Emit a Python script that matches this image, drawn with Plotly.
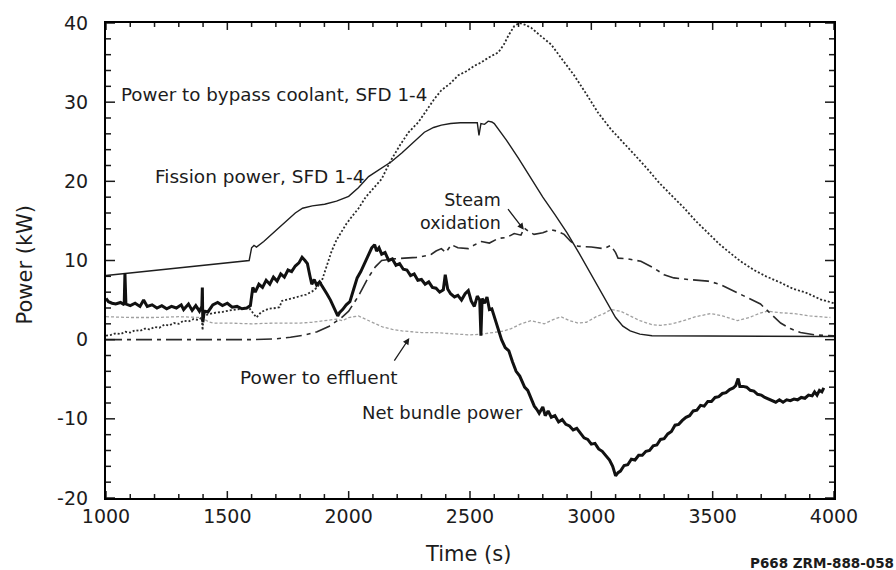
import plotly.graph_objects as go

# ---------------- data ----------------
fission_t = [1000, 1590, 1600, 1610, 1620, 1650, 1700, 1750, 1780, 1810, 1850, 1901, 1950, 2000,
             2040, 2082, 2130, 2177, 2220, 2270, 2312, 2350, 2382, 2420, 2460, 2530, 2537, 2545,
             2560, 2575, 2590, 2600, 2650, 2700, 2750, 2800, 2850, 2900, 2950, 3000, 3050, 3080,
             3100, 3130, 3160, 3200, 3250, 4000]
fission_p = [8.1, 10.0, 11.6, 11.9, 11.7, 12.4, 13.8, 15.2, 16.0, 16.6, 16.9, 17.1, 17.5, 18.1,
             19.2, 20.6, 21.6, 22.5, 23.6, 25.0, 26.2, 26.8, 27.1, 27.3, 27.4, 27.4, 25.8, 27.3,
             27.2, 27.6, 27.5, 27.3, 25.2, 22.9, 20.5, 18.0, 15.8, 13.5, 10.9, 8.2, 5.4, 3.8,
             2.8, 1.7, 1.1, 0.7, 0.5, 0.4]

bypass_t = [1000, 1020, 1040, 1060, 1080, 1100, 1120, 1140, 1160, 1180, 1200, 1220, 1240, 1260,
            1280, 1300, 1320, 1340, 1360, 1380, 1395, 1398, 1402, 1420, 1450, 1480, 1510, 1540,
            1570, 1590, 1605, 1620, 1640, 1670, 1700, 1715, 1725, 1750, 1775, 1800, 1825, 1850,
            1870, 1889, 1910, 1930, 1950, 1971, 1990, 2012, 2041, 2070, 2100, 2136, 2160, 2177,
            2210, 2247, 2288, 2320, 2353, 2382, 2420, 2452, 2485, 2518, 2545, 2575, 2600, 2617,
            2640, 2658, 2682, 2703, 2725, 2752, 2790, 2834, 2880, 2929, 2980, 3027, 3080, 3130,
            3180, 3230, 3280, 3328, 3380, 3430, 3480, 3530, 3562, 3615, 3670, 3720, 3780, 3833,
            3880, 3944, 4000]
bypass_p = [0.5, 0.6, 0.8, 0.7, 1.0, 0.9, 1.2, 1.1, 1.4, 1.3, 1.6, 1.5, 1.9, 1.8,
            2.1, 2.0, 2.4, 2.3, 2.6, 2.5, 2.8, 1.2, 2.9, 3.2, 3.4, 3.5, 3.7, 3.8,
            3.9, 4.0, 3.4, 2.8, 3.5, 3.9, 4.0, 4.1, 4.9, 5.1, 5.3, 5.5, 5.7, 6.1,
            6.6, 7.4, 9.3, 11.2, 12.6, 13.7, 14.6, 15.5, 16.6, 18.0, 19.0, 20.3, 21.8, 22.8,
            24.5, 26.2, 27.5, 29.0, 30.4, 31.5, 32.4, 33.4, 33.9, 34.6, 35.0, 35.6, 36.0, 36.3,
            37.3, 38.4, 39.6, 40.0, 39.8, 39.4, 38.4, 37.3, 35.4, 33.4, 31.0, 28.7, 26.6, 25.0,
            23.3, 21.6, 19.8, 18.3, 16.7, 15.0, 13.5, 12.0, 11.2, 9.9, 8.8, 8.0, 7.2, 6.4,
            6.0, 5.1, 4.6]

steam_t = [1000, 1200, 1400, 1600, 1700, 1760, 1820, 1870, 1920, 1971, 2000, 2040, 2080, 2110,
           2136, 2180, 2230, 2280, 2320, 2341, 2360, 2382, 2400, 2423, 2450, 2493, 2520, 2547,
           2580, 2617, 2650, 2682, 2710, 2723, 2745, 2764, 2800, 2834, 2860, 2888, 2915, 2945,
           3000, 3052, 3080, 3100, 3110, 3150, 3204, 3260, 3300, 3340, 3400, 3480, 3530, 3587,
           3650, 3697, 3740, 3780, 3820, 3862, 3920, 4000]
steam_p = [0.0, 0.0, 0.0, 0.0, 0.1, 0.3, 0.6, 1.0, 1.7, 2.8, 3.6, 5.5, 7.8, 9.2,
           10.0, 10.2, 10.3, 10.4, 10.6, 10.8, 11.2, 11.5, 11.0, 12.0, 11.6, 11.5, 12.0, 12.4,
           12.2, 12.8, 12.9, 13.4, 13.2, 14.1, 13.6, 13.3, 13.5, 13.9, 13.7, 13.3, 12.4, 11.8,
           11.7, 11.5, 11.9, 11.0, 10.3, 10.2, 9.9, 9.0, 8.2, 7.8, 7.6, 7.4, 7.0, 6.1,
           5.2, 4.5, 3.2, 2.1, 1.4, 0.9, 0.6, 0.5]

effluent_t = [1000, 1100, 1200, 1300, 1395, 1420, 1440, 1500, 1600, 1700, 1800, 1850, 1900, 1950,
              1975, 2000, 2040, 2070, 2100, 2140, 2180, 2220, 2260, 2300, 2350, 2400, 2450, 2500,
              2550, 2600, 2640, 2670, 2710, 2752, 2806, 2840, 2875, 2910, 2945, 2980, 3020, 3052,
              3081, 3120, 3160, 3200, 3250, 3286, 3330, 3380, 3430, 3492, 3540, 3603, 3650, 3700,
              3726, 3780, 3833, 3900, 3985]
effluent_p = [2.9, 2.8, 2.8, 2.9, 2.8, 2.3, 2.1, 2.1, 2.0, 2.1, 2.1, 2.2, 2.4, 2.6,
              2.4, 2.8, 3.0, 2.6, 2.1, 1.6, 1.3, 1.1, 1.0, 0.9, 0.9, 0.8, 0.7, 0.6,
              0.7, 0.9, 1.1, 1.4, 2.0, 2.4, 2.0, 2.5, 2.9, 2.4, 2.1, 2.2, 2.9, 3.3,
              3.8, 3.6, 3.0, 2.4, 1.9, 1.8, 2.0, 2.4, 2.9, 3.3, 3.0, 2.4, 2.8, 3.4,
              3.6, 3.4, 3.3, 3.0, 2.8]

net_t = [1000, 1010, 1025, 1040, 1060, 1075, 1078, 1082, 1100, 1120, 1140, 1155, 1170, 1190,
         1210, 1230, 1250, 1270, 1290, 1310, 1320, 1340, 1355, 1370, 1385, 1395, 1397, 1399,
         1405, 1420, 1440, 1460, 1480, 1500, 1520, 1540, 1560, 1580, 1595, 1605, 1615, 1630,
         1645, 1660, 1675, 1690, 1705, 1720, 1735, 1750, 1765, 1780, 1795, 1808, 1820, 1830,
         1840, 1848, 1858, 1868, 1880, 1895, 1910, 1925, 1940, 1955, 1962, 1975, 1990, 2005,
         2020, 2035, 2050, 2065, 2080, 2095, 2107, 2115, 2125, 2136, 2150, 2165, 2180, 2195,
         2210, 2225, 2240, 2255, 2270, 2285, 2300, 2315, 2330, 2345, 2360, 2375, 2390, 2398,
         2408, 2420, 2436, 2450, 2465, 2480, 2493, 2505, 2518, 2530, 2540, 2545, 2550, 2560,
         2570, 2580, 2590, 2605, 2617, 2630, 2645, 2660, 2675, 2690, 2705, 2715, 2725, 2738,
         2750, 2765, 2775, 2785, 2800, 2810, 2822, 2835, 2850, 2865, 2880, 2895, 2910, 2925,
         2940, 2955, 2970, 2985, 3000, 3015, 3030, 3045, 3060, 3075, 3088, 3100, 3110, 3120,
         3135, 3150, 3165, 3180, 3195, 3210, 3225, 3240, 3255, 3270, 3285, 3300, 3315, 3330,
         3345, 3360, 3375, 3390, 3405, 3420, 3435, 3450, 3465, 3480, 3495, 3510, 3525, 3540,
         3555, 3570, 3585, 3595, 3605, 3612, 3625, 3640, 3655, 3670, 3685, 3700, 3715, 3730,
         3745, 3760, 3775, 3790, 3805, 3820, 3835, 3850, 3865, 3880, 3895, 3910, 3920, 3930,
         3940, 3950, 3958]
net_p = [5.2, 4.8, 4.6, 4.5, 4.7, 4.4, 8.4, 4.5, 4.3, 4.6, 4.2, 5.0, 4.2, 4.4,
         4.0, 4.3, 3.9, 4.2, 4.0, 4.4, 3.8, 4.5, 3.7, 4.3, 3.6, 4.2, 6.6, 2.2,
         3.6, 3.5, 4.4, 4.7, 4.3, 4.6, 4.1, 4.2, 3.9, 4.0, 4.3, 6.6, 6.0, 7.0,
         6.6, 7.5, 7.0, 7.9, 7.4, 8.3, 7.9, 8.8, 8.6, 9.3, 9.7, 10.4, 10.0, 9.6,
         8.1, 7.0, 7.6, 6.9, 7.3, 6.6, 5.8, 5.0, 4.1, 3.0, 3.4, 3.8, 4.4, 4.8,
         6.3, 7.8, 8.6, 9.6, 10.6, 11.6, 12.0, 11.2, 11.6, 10.8, 11.0, 10.0, 10.2, 9.4,
         9.6, 8.9, 8.8, 8.1, 8.3, 7.5, 7.6, 7.0, 7.3, 6.6, 6.5, 6.0, 6.3, 8.2,
         6.4, 5.8, 5.4, 5.6, 5.0, 5.8, 6.2, 4.9, 4.2, 5.5, 5.0, 0.5, 5.2, 4.6,
         5.4, 3.8, 3.9, 2.4, 1.2, 0.0, -1.0, -1.4, -2.8, -4.0, -4.6, -5.4, -6.0, -6.4,
         -7.3, -8.4, -8.8, -9.3, -8.5, -9.6, -9.0, -9.8, -9.6, -10.4, -10.1, -10.7, -10.9, -11.4,
         -11.2, -11.8, -12.4, -12.6, -13.2, -13.1, -13.8, -14.1, -14.7, -15.2, -16.0, -17.2, -16.8, -16.6,
         -15.9, -15.8, -15.1, -15.2, -14.6, -14.6, -14.1, -14.0, -13.4, -13.3, -12.6, -12.5, -11.9, -11.6,
         -10.8, -10.7, -10.2, -9.8, -9.6, -9.0, -8.9, -8.3, -8.4, -7.8, -7.8, -7.3, -7.2, -6.8,
         -6.7, -6.3, -6.1, -5.8, -4.9, -5.9, -5.9, -6.0, -6.4, -6.5, -6.9, -7.0, -7.3, -7.5,
         -7.8, -7.9, -7.6, -7.9, -7.6, -7.7, -7.5, -7.6, -7.3, -7.4, -7.0, -7.1, -6.6, -7.0,
         -6.4, -6.6, -6.1]

x_ticks = [1000, 1500, 2000, 2500, 3000, 3500, 4000]
x_labels = ["1000", "1500", "2000", "2500", "3000", "3500", "4000"]
x_minor = list(range(1000, 4001, 100))
y_ticks = [-20, -10, 0, 10, 20, 30, 40]
y_labels = ["-20", "-10", "0", "10", "20", "30", "40"]
y_minor = list(range(-20, 41, 2))

X_RANGE = [1000, 4000]
Y_RANGE = [-20, 40]

FONT = "DejaVu Sans"
INK = "#1c1c1c"

fig = go.Figure()
fig.add_trace(go.Scatter(x=effluent_t, y=effluent_p, mode="lines",
                         line=dict(color="#a0a0a0", width=1.3, dash="3px,2px")))
fig.add_trace(go.Scatter(x=steam_t, y=steam_p, mode="lines",
                         line=dict(color="#2a2a2a", width=1.6, dash="16px,5px,4px,5px")))
fig.add_trace(go.Scatter(x=bypass_t, y=bypass_p, mode="lines",
                         line=dict(color="#2a2a2a", width=1.8, dash="2px,2px")))
fig.add_trace(go.Scatter(x=fission_t, y=fission_p, mode="lines",
                         line=dict(color="#1e1e1e", width=1.4)))
fig.add_trace(go.Scatter(x=net_t, y=net_p, mode="lines",
                         line=dict(color="#111111", width=3)))

# inside tick marks on all four sides, drawn as one line trace in axis units
PLOT_W, PLOT_H = 896 - 106 - 62, 570 - 20 - 72
ux = (X_RANGE[1] - X_RANGE[0]) / PLOT_W   # axis units per pixel (x)
uy = (Y_RANGE[1] - Y_RANGE[0]) / PLOT_H   # axis units per pixel (y)
tick_x, tick_y = [], []
for v in x_minor:
    L = (7 if v in x_ticks else 4) * uy
    tick_x += [v, v, None, v, v, None]
    tick_y += [Y_RANGE[0], Y_RANGE[0] + L, None, Y_RANGE[1] - L, Y_RANGE[1], None]
for v in y_minor:
    L = (9 if v in y_ticks else 5) * ux
    tick_x += [X_RANGE[0], X_RANGE[0] + L, None, X_RANGE[1] - L, X_RANGE[1], None]
    tick_y += [v, v, None, v, v, None]
fig.add_trace(go.Scatter(x=tick_x, y=tick_y, mode="lines", connectgaps=False,
                         line=dict(color="#1a1a1a", width=1.5), hoverinfo="skip",
                         cliponaxis=False))

ann = []
def txt(x, y, s, xanchor="left", size=18.5, align="left"):
    ann.append(dict(x=x, y=y, xref="x", yref="y", text=s, showarrow=False,
                    xanchor=xanchor, yanchor="middle", align=align,
                    font=dict(family=FONT, size=size, color=INK)))

txt(1052, 30.96, "Power to bypass coolant, SFD 1-4", size=18.3)
txt(1194, 20.67, "Fission power, SFD 1-4")
txt(2636, 16.2, "Steam<br>oxidation", xanchor="right", align="right", size=17.5)
txt(1544, -4.8, "Power to effluent", size=18.5)
txt(2047, -9.2, "Net bundle power", size=18)

# arrows
ann.append(dict(x=2722, y=13.9, xref="x", yref="y", ax=-17, ay=-22, showarrow=True,
                arrowhead=2, arrowsize=1, arrowwidth=1.3, arrowcolor=INK, text=""))
ann.append(dict(x=2250, y=0.2, xref="x", yref="y", ax=-16, ay=24, showarrow=True,
                arrowhead=2, arrowsize=1, arrowwidth=1.3, arrowcolor=INK, text=""))

# axis titles and figure code
ann.append(dict(x=-0.111, y=0.49, xref="paper", yref="paper", text="Power (kW)",
                textangle=-90, showarrow=False, xanchor="center", yanchor="middle",
                font=dict(family=FONT, size=21, color=INK)))
ann.append(dict(x=0.497, y=-0.117, xref="paper", yref="paper", text="Time (s)",
                showarrow=False, xanchor="center", yanchor="middle",
                font=dict(family=FONT, size=21, color=INK)))
ann.append(dict(x=1.085, y=-0.136, xref="paper", yref="paper", text="<b>P668 ZRM-888-058</b>",
                showarrow=False, xanchor="right", yanchor="middle",
                font=dict(family=FONT, size=13.5, color=INK)))

fig.update_layout(
    width=896, height=570,
    margin=dict(l=106, r=62, t=20, b=72),
    paper_bgcolor="white", plot_bgcolor="white",
    showlegend=False,
    annotations=ann,
    xaxis=dict(range=X_RANGE, tickvals=x_ticks, ticktext=x_labels,
               ticks="", showline=True, linecolor="black", linewidth=2, mirror=True,
               showgrid=False, zeroline=False,
               tickfont=dict(family=FONT, size=19, color=INK)),
    yaxis=dict(range=Y_RANGE, tickvals=y_ticks,
               ticktext=[s + "\u00a0\u00a0" for s in y_labels],
               ticks="", showline=True, linecolor="black", linewidth=2, mirror=True,
               showgrid=False, zeroline=False,
               tickfont=dict(family=FONT, size=19, color=INK)),
)

fig.write_html("out.html")
